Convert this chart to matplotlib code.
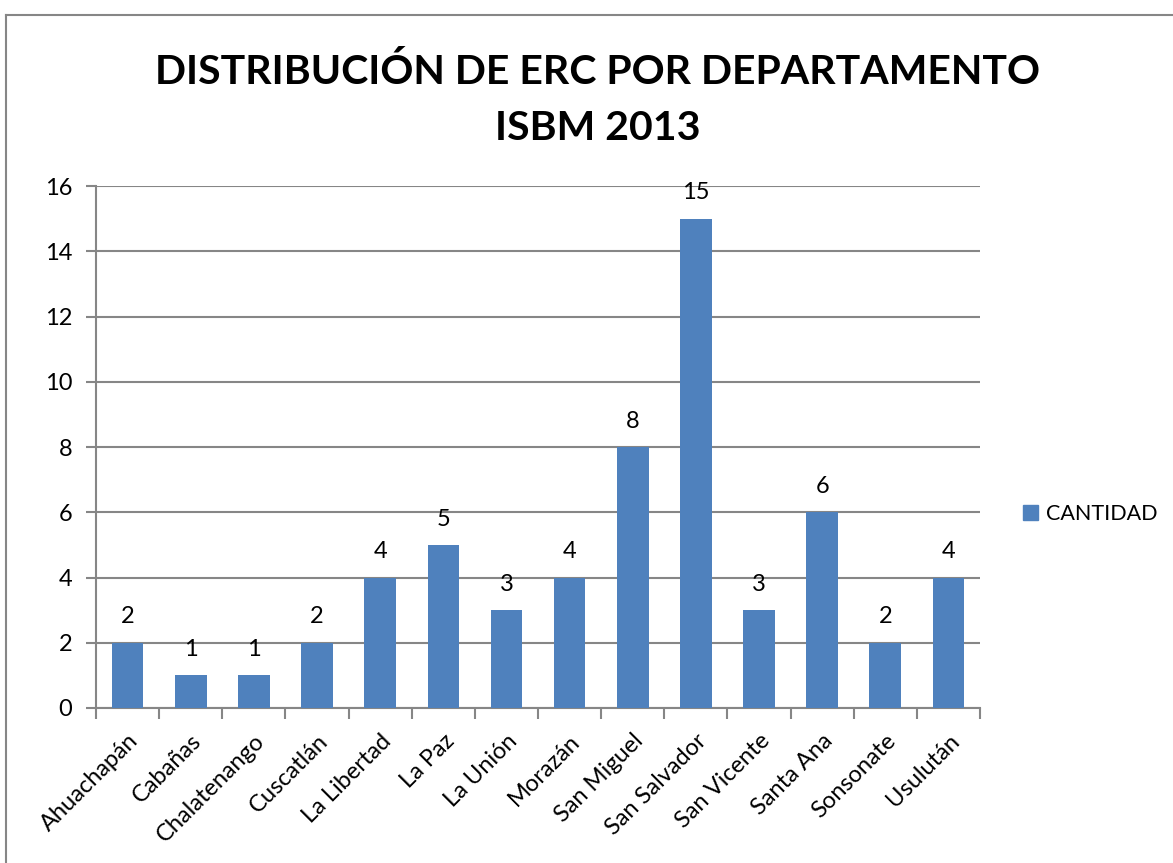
import matplotlib
matplotlib.use("Agg")
import matplotlib.pyplot as plt
from matplotlib.lines import Line2D
from matplotlib.patches import Patch

categories = ["Ahuachapán", "Cabañas", "Chalatenango", "Cuscatlán", "La Libertad",
              "La Paz", "La Unión", "Morazán", "San Miguel", "San Salvador",
              "San Vicente", "Santa Ana", "Sonsonate", "Usulután"]
values = [2, 1, 1, 2, 4, 5, 3, 4, 8, 15, 3, 6, 2, 4]
yticks = [0, 2, 4, 6, 8, 10, 12, 14, 16]
series_name = "CANTIDAD"
title_lines = ["DISTRIBUCIÓN DE ERC POR DEPARTAMENTO", "ISBM 2013"]

plt.rcParams['font.family'] = ['Lato', 'DejaVu Sans']
W, H = 1173, 863
fig = plt.figure(figsize=(W/100, H/100), dpi=100)
fig.patch.set_facecolor("white")

ax = fig.add_axes([96/W, 1-708/H, (980-96)/W, (708-186)/H])
bar_color = "#4F81BD"
grid_color = "#868686"
fs = 17
x = list(range(len(categories)))
ax.bar(x, values, width=0.5, color=bar_color, zorder=3)
ax.set_xlim(-0.5, len(categories)-0.5)
ax.set_ylim(0, 16)
ax.set_yticks(yticks)
ax.set_yticklabels([str(t) for t in yticks], fontsize=fs)
ax.yaxis.grid(True, color=grid_color, linewidth=1.5, zorder=0)
for s in ["top", "right"]:
    ax.spines[s].set_visible(False)
for s in ["left", "bottom"]:
    ax.spines[s].set_color(grid_color)
    ax.spines[s].set_linewidth(1.5)
ax.tick_params(axis='y', length=7, width=1.5, color=grid_color, pad=10)
ax.set_xticks([i - 0.5 for i in range(len(categories)+1)], minor=False)
ax.set_xticklabels([])
ax.tick_params(axis='x', length=8, width=1.5, color=grid_color, direction='out')
ax.set_xticks(x, minor=True)
ax.set_xticklabels(categories, minor=True, rotation=45, ha='right', rotation_mode='anchor', fontsize=fs)
ax.tick_params(axis='x', which='minor', length=0, pad=16)

for xi, v in zip(x, values):
    ax.annotate(str(v), (xi, v), xytext=(0, 11), textcoords='offset points',
                ha='center', va='bottom', fontsize=fs, color='black')

fig.text((160+1035)/2/W, 1-72/H, title_lines[0], ha='center', va='center',
         fontsize=29.5, fontweight='bold')
fig.text((160+1035)/2/W, 1-128/H, title_lines[1], ha='center', va='center',
         fontsize=29.5, fontweight='bold')

fig.legend(handles=[Patch(color=bar_color, label=series_name)], loc='center left',
           bbox_to_anchor=(1014/W, 1-514/H), frameon=False, fontsize=15.5,
           handlelength=0.7, handleheight=0.7, handletextpad=0.4, borderaxespad=0)

fig.add_artist(Line2D([6/W, 6/W], [0, 1-15/H], transform=fig.transFigure, color=grid_color, linewidth=1.5))
fig.add_artist(Line2D([6/W, 1], [1-15/H, 1-15/H], transform=fig.transFigure, color=grid_color, linewidth=1.5))

fig.savefig("out.png", dpi=100)
